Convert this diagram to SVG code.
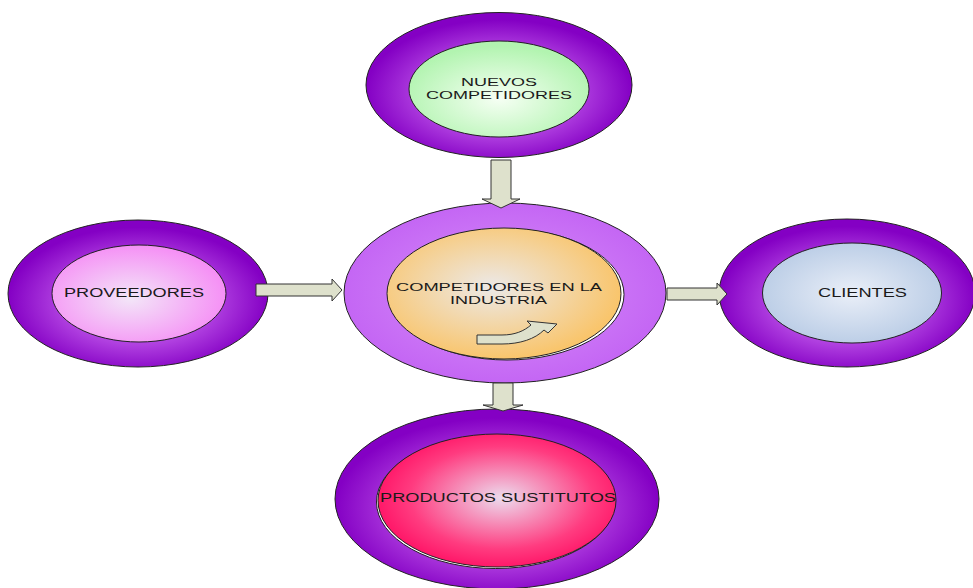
<svg xmlns="http://www.w3.org/2000/svg" width="973" height="588" viewBox="0 0 973 588">
  <defs>
    <radialGradient id="gPurple" cx="50%" cy="55%" r="50%">
      <stop offset="0" stop-color="#d890ff"/>
      <stop offset="0.6" stop-color="#b040e0"/>
      <stop offset="1" stop-color="#8400c4"/>
    </radialGradient>
    <radialGradient id="gLilac" cx="50%" cy="50%" r="50%">
      <stop offset="0" stop-color="#d890fa"/>
      <stop offset="1" stop-color="#c466f4"/>
    </radialGradient>
    <radialGradient id="gGreen" cx="50%" cy="60%" r="55%">
      <stop offset="0" stop-color="#f6fff4"/>
      <stop offset="1" stop-color="#b2f4b0"/>
    </radialGradient>
    <radialGradient id="gPink" cx="45%" cy="55%" r="55%">
      <stop offset="0" stop-color="#f3e6f8"/>
      <stop offset="1" stop-color="#f590f5"/>
    </radialGradient>
    <radialGradient id="gBlue" cx="50%" cy="50%" r="55%">
      <stop offset="0" stop-color="#eaeff8"/>
      <stop offset="1" stop-color="#b8cbe5"/>
    </radialGradient>
    <radialGradient id="gOrange" cx="45%" cy="45%" r="55%">
      <stop offset="0" stop-color="#ece9e8"/>
      <stop offset="1" stop-color="#f9c56c"/>
    </radialGradient>
    <radialGradient id="gRed" cx="52%" cy="48%" r="55%">
      <stop offset="0" stop-color="#ecdcee"/>
      <stop offset="0.7" stop-color="#ff3c80"/>
      <stop offset="1" stop-color="#ff1064"/>
    </radialGradient>
  </defs>
  <style>
    .outer { stroke: #222; stroke-width: 1; }
    .inner { stroke: #222; stroke-width: 1; }
    .shadow { fill: #ffffff; stroke: #222; stroke-width: 1; }
    .lbl { font-family: "Liberation Sans", Arial, sans-serif; font-size: 12px; fill: #1a1a1a; text-anchor: middle; }
    .lbl2 { font-family: "Liberation Sans", Arial, sans-serif; font-size: 11px; fill: #1a1a1a; text-anchor: middle; }
    .arrow { fill: #dee1cc; stroke: #333; stroke-width: 1; stroke-linejoin: miter; }
  </style>

  <rect width="973" height="588" fill="#ffffff"/>

  <!-- Nuevos competidores -->
  <g id="nuevos">
    <ellipse class="outer" cx="499" cy="85" rx="133" ry="72.5" fill="url(#gPurple)"/>
    <ellipse class="inner" cx="499" cy="89" rx="90" ry="48" fill="url(#gGreen)"/>
    <text class="lbl2" x="499" y="86" textLength="76" lengthAdjust="spacingAndGlyphs">NUEVOS</text>
    <text class="lbl2" x="499" y="98.5" textLength="146" lengthAdjust="spacingAndGlyphs">COMPETIDORES</text>
  </g>

  <!-- Proveedores -->
  <g id="proveedores">
    <ellipse class="outer" cx="138" cy="293.5" rx="130" ry="73.5" fill="url(#gPurple)"/>
    <ellipse class="inner" cx="139" cy="293.5" rx="87" ry="48.5" fill="url(#gPink)"/>
    <text class="lbl" x="134" y="297" textLength="140" lengthAdjust="spacingAndGlyphs">PROVEEDORES</text>
  </g>

  <!-- Clientes -->
  <g id="clientes">
    <ellipse class="outer" cx="847" cy="293" rx="128" ry="74" fill="url(#gPurple)"/>
    <ellipse class="inner" cx="852" cy="293" rx="89.5" ry="50" fill="url(#gBlue)"/>
    <text class="lbl" x="862.5" y="297" textLength="89" lengthAdjust="spacingAndGlyphs">CLIENTES</text>
  </g>

  <!-- Competidores en la industria -->
  <g id="industria">
    <ellipse class="outer" cx="505" cy="293" rx="161" ry="90" fill="url(#gLilac)"/>
    <ellipse class="shadow" cx="507" cy="294.5" rx="117" ry="65.5"/>
    <ellipse class="inner" cx="504" cy="293.5" rx="117" ry="65.5" fill="url(#gOrange)"/>
    <text class="lbl2" x="499" y="291" textLength="206" lengthAdjust="spacingAndGlyphs">COMPETIDORES EN LA</text>
    <text class="lbl2" x="498.5" y="303.5" textLength="97" lengthAdjust="spacingAndGlyphs">INDUSTRIA</text>
    <path class="arrow" d="M477,335 L502,335 C515,335 524,331 531,325 L527,321 L557,324 L548,333 L544,330 C535,339 520,344 502,344 L477,344 Z"/>
  </g>

  <!-- Productos sustitutos -->
  <g id="sustitutos">
    <ellipse class="outer" cx="497" cy="499" rx="162" ry="90" fill="url(#gPurple)"/>
    <ellipse class="shadow" cx="495.5" cy="502" rx="119" ry="66.5"/>
    <ellipse class="inner" cx="497" cy="500.5" rx="119" ry="66.5" fill="url(#gRed)"/>
    <text class="lbl" x="498" y="502" textLength="236" lengthAdjust="spacingAndGlyphs">PRODUCTOS SUSTITUTOS</text>
  </g>

  <!-- Connectors -->
  <g id="connectors">
    <polygon class="arrow" points="491,160 511,160 511,199 520,199 501,208 482,199 491,199"/>
    <polygon class="arrow" points="493,383 513,383 513,405 523,405 503,411 483,405 493,405"/>
    <polygon class="arrow" points="256,284 332,284 332,279 342,290 332,301 332,296 256,296"/>
    <polygon class="arrow" points="667,288 717,288 717,283 727,294 717,305 717,300 667,300"/>
  </g>
</svg>
